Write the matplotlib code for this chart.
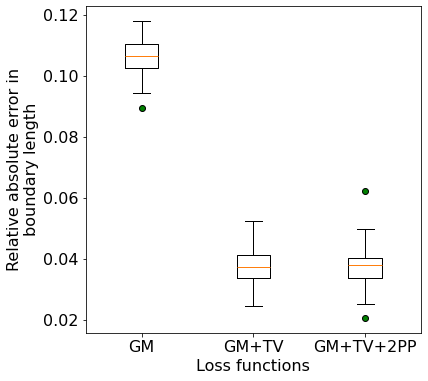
import matplotlib
matplotlib.use("Agg")
import matplotlib.pyplot as plt

labels = ["GM", "GM+TV", "GM+TV+2PP"]
whislo = [0.0944, 0.0245, 0.0251]
q1 = [0.1026, 0.0337, 0.0337]
med = [0.1066, 0.0373, 0.0379]
q3 = [0.1105, 0.0412, 0.0402]
whishi = [0.1180, 0.0524, 0.0497]
fliers = [[0.0895], [], [0.0207, 0.0623]]

stats = []
for i in range(len(labels)):
    stats.append(dict(label=labels[i], whislo=whislo[i], q1=q1[i], med=med[i],
                      q3=q3[i], whishi=whishi[i], fliers=fliers[i]))

plt.rcParams['font.size'] = 16
fig, ax = plt.subplots(figsize=(428 / 72, 381 / 72), dpi=72)
ax.bxp(stats, flierprops=dict(marker='o', markersize=6,
                              markerfacecolor='green', markeredgecolor='black'))
ax.set_ylim(0.0157, 0.123)
ax.set_xlabel("Loss functions")
ax.set_ylabel("Relative absolute error in\nboundary length")
fig.subplots_adjust(left=0.2, right=0.984, top=0.984, bottom=0.126)
fig.savefig("out.png")
